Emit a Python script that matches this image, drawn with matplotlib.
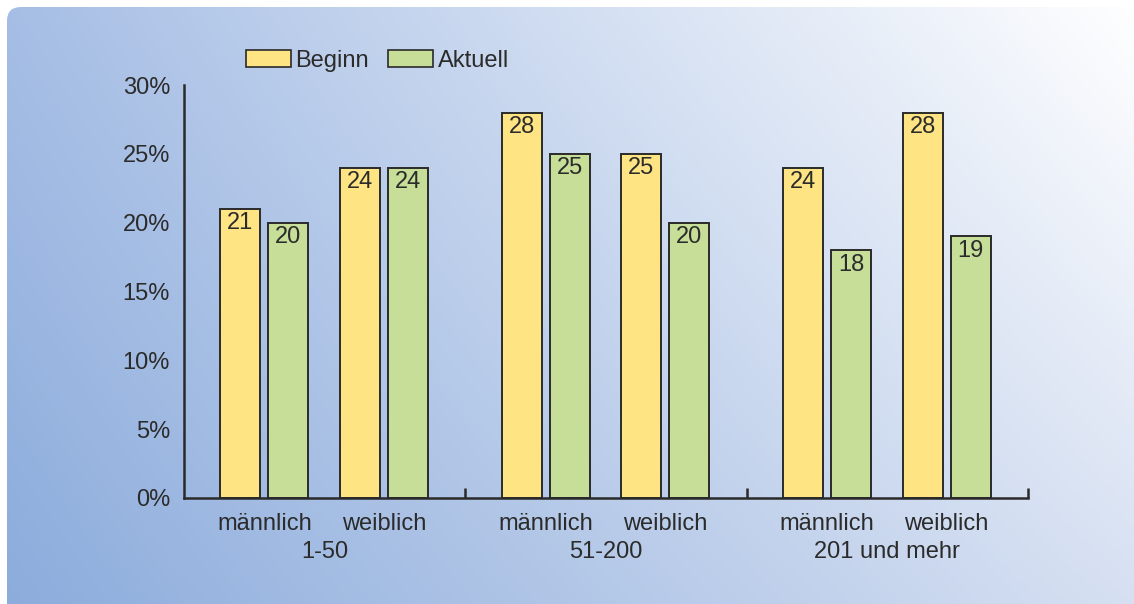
import numpy as np
import matplotlib
matplotlib.use('Agg')
import matplotlib.pyplot as plt
from matplotlib.patches import FancyBboxPatch, Patch
from matplotlib.transforms import blended_transform_factory

# Betriebsgrößen, Geschlecht und Anteile in Prozent
gruppen = ['1-50', '51-200', '201 und mehr']
geschlecht = ['männlich', 'weiblich']
beginn = [21, 24, 28, 25, 24, 28]
aktuell = [20, 24, 25, 20, 18, 19]
y_ticks = [0, 5, 10, 15, 20, 25, 30]

plt.rcParams['font.family'] = ['Liberation Sans', 'DejaVu Sans']
text_col = '#2b2b2b'
edge_col = '#2a2a2a'
gelb = '#ffe484'
gruen = '#c6de97'
fs = 17

W, H = 1134, 604
fig = plt.figure(figsize=(W / 100, H / 100), dpi=100, facecolor='white')

# Hintergrund: abgerundetes Feld mit Farbverlauf
bg = fig.add_axes([0, 0, 1, 1], zorder=-5)
bg.set_xlim(0, W)
bg.set_ylim(H, 0)
bg.axis('off')
tl = np.array([166, 190, 229]) / 255
tr = np.array([255, 255, 255]) / 255
bl = np.array([140, 172, 220]) / 255
br = np.array([214, 224, 242]) / 255
u = np.linspace(0, 1, 300)[None, :, None]
v = np.linspace(0, 1, 200)[:, None, None]
grad = (1 - v) * ((1 - u) * tl + u * tr) + v * ((1 - u) * bl + u * br)
im = bg.imshow(grad, extent=[0, W, H, 0], aspect='auto', interpolation='bilinear')
panel = FancyBboxPatch((7, 7), W + 40, H + 40, boxstyle='round,pad=0,rounding_size=14',
                       transform=bg.transData, facecolor='none', edgecolor='none')
bg.add_patch(panel)
im.set_clip_path(panel)

# Diagramm
ax = fig.add_axes([184 / W, 106 / H, 844 / W, 413 / H])
ax.patch.set_alpha(0)

n = len(gruppen)
bw = 0.142
off = 0.0853
centers = []
for g in range(n):
    for s in range(len(geschlecht)):
        centers.append(g + 0.286 + 0.425 * s)
centers = np.array(centers)

b1 = ax.bar(centers - off, beginn, bw, color=gelb, edgecolor=edge_col, linewidth=1.4)
b2 = ax.bar(centers + off, aktuell, bw, color=gruen, edgecolor=edge_col, linewidth=1.4)

for bars, vals in [(b1, beginn), (b2, aktuell)]:
    for rect, val in zip(bars, vals):
        ax.annotate(f'{val}', (rect.get_x() + rect.get_width() / 2, val),
                    xytext=(0, -2.5), textcoords='offset points',
                    ha='center', va='top', fontsize=fs, color=text_col)

ax.set_xlim(0, n)
ax.set_ylim(0, 30)
ax.set_yticks(y_ticks)
ax.set_yticklabels([f'{t}%' for t in y_ticks])
ax.tick_params(axis='y', length=0, pad=10, labelsize=fs, labelcolor=text_col)

ax.set_xticks(centers)
ax.set_xticklabels(geschlecht * n)
ax.tick_params(axis='x', which='major', length=0, pad=11, labelsize=fs, labelcolor=text_col)
ax.set_xticks(np.arange(1, n + 1), minor=True)
ax.tick_params(axis='x', which='minor', direction='in', length=7, width=1.8, color=edge_col)

for sp in ['top', 'right']:
    ax.spines[sp].set_visible(False)
for sp in ['left', 'bottom']:
    ax.spines[sp].set_linewidth(1.8)
    ax.spines[sp].set_color(edge_col)

# Gruppenbeschriftung unter den Geschlechtern
trans = blended_transform_factory(ax.transData, ax.transAxes)
for g, name in enumerate(gruppen):
    ax.annotate(name, (g + 0.5, 0), xycoords=trans, xytext=(0, -31),
                textcoords='offset points', ha='center', va='top',
                fontsize=fs, color=text_col)

handles = [Patch(facecolor=gelb, edgecolor=edge_col, linewidth=1.2, label='Beginn'),
           Patch(facecolor=gruen, edgecolor=edge_col, linewidth=1.2, label='Aktuell')]
leg = fig.legend(handles=handles, loc='center left', bbox_to_anchor=(246 / W, 1 - 61 / H),
                 ncol=2, frameon=False, fontsize=fs, handlelength=1.9, handleheight=0.7,
                 handletextpad=0.2, columnspacing=0.8, borderpad=0, borderaxespad=0)
for t in leg.get_texts():
    t.set_color(text_col)

fig.savefig('out.png', dpi=100, facecolor='white')
